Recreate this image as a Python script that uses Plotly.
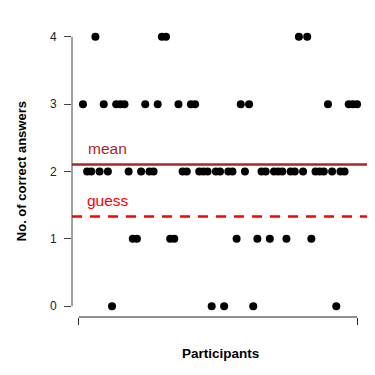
import plotly.graph_objects as go

# ---- data ----
participants = list(range(1, 68))
correct = [3, 2, 2, 4, 2, 3, 2, 0, 3, 3,
           3, 2, 1, 1, 2, 3, 2, 2, 3, 4,
           4, 1, 1, 3, 2, 2, 3, 3, 2, 2,
           2, 0, 2, 2, 0, 2, 2, 1, 3, 2,
           3, 0, 1, 2, 2, 1, 2, 2, 2, 1,
           2, 2, 4, 2, 4, 1, 2, 2, 2, 3,
           2, 0, 2, 2, 3, 3, 3]
y_ticks = [0, 1, 2, 3, 4]
x_ticks = [0, len(participants)]
guess_level = 4 / 3
mean_level = sum(correct) / len(correct)
label_x = 7
label_offset = 0.24

FONT = "Liberation Sans, Arial, Helvetica, sans-serif"
BROWN = "#A52A2A"
RED = "#FF0000"

n = len(participants)
pad_x = 0.04 * (n - 1)
pad_y = 0.04 * (max(y_ticks) - min(y_ticks))

fig = go.Figure()
fig.add_trace(go.Scatter(
    x=participants, y=correct, mode="markers",
    marker=dict(color="black", size=8, line=dict(width=0)),
    showlegend=False, hoverinfo="skip"))

shapes = [
    # mean line
    dict(type="line", xref="paper", x0=0, x1=1, yref="y", y0=mean_level, y1=mean_level,
         line=dict(color=BROWN, width=2.5)),
    # guess line
    dict(type="line", xref="paper", x0=0, x1=1, yref="y", y0=guess_level, y1=guess_level,
         line=dict(color=RED, width=2.5, dash="10px,8px")),
    # y axis line (R style: from first to last tick)
    dict(type="line", xref="paper", x0=0, x1=0, yref="y", y0=min(y_ticks), y1=max(y_ticks),
         line=dict(color="#444444", width=1)),
    # x axis line
    dict(type="line", xref="x", x0=x_ticks[0], x1=x_ticks[-1], yref="paper", y0=0, y1=0,
         line=dict(color="#222222", width=1)),
]

annotations = [
    dict(x=label_x, y=mean_level + label_offset, xref="x", yref="y", text="mean",
         showarrow=False, font=dict(family=FONT, size=15.5, color=BROWN)),
    dict(x=label_x, y=guess_level + label_offset, xref="x", yref="y", text="guess",
         showarrow=False, font=dict(family=FONT, size=15.5, color=RED)),
    dict(x=-0.17, y=0.5, xref="paper", yref="paper", text="<b>No. of correct answers</b>",
         textangle=-90, showarrow=False, xanchor="center", yanchor="middle",
         font=dict(family=FONT, size=13, color="black")),
    dict(x=0.5, y=-0.124, xref="paper", yref="paper", text="<b>Participants</b>",
         showarrow=False, xanchor="center", yanchor="middle",
         font=dict(family=FONT, size=13.5, color="black")),
]

# page body has an 8px margin, so the figure is sized/offset to compensate
fig.update_layout(
    width=367, height=367,
    margin=dict(l=64, r=7, t=18, b=58),
    paper_bgcolor="white", plot_bgcolor="white",
    shapes=shapes, annotations=annotations,
    font=dict(family=FONT, size=12, color="black"),
    xaxis=dict(range=[1 - pad_x, n + pad_x], showgrid=False, zeroline=False, showline=False,
               tickmode="array", tickvals=x_ticks, ticks="outside", ticklen=7,
               tickcolor="#222222", tickwidth=1, showticklabels=False),
    yaxis=dict(range=[min(y_ticks) - pad_y, max(y_ticks) + pad_y], showgrid=False,
               zeroline=False, showline=False, tickmode="array", tickvals=y_ticks,
               ticks="outside", ticklen=7, tickcolor="#444444", tickwidth=1,
               ticklabelstandoff=5, tickfont=dict(family=FONT, size=12, color="#222222")),
)

fig.write_html("out.html")
